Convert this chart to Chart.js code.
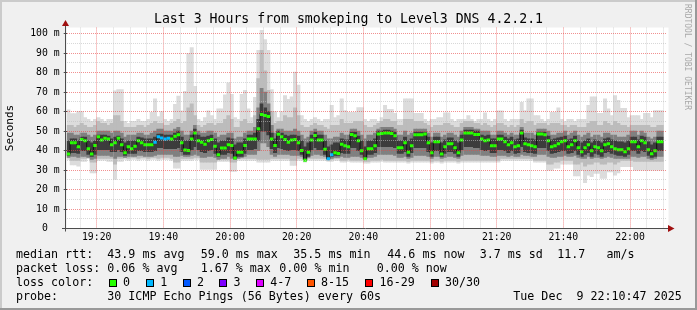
<!DOCTYPE html>
<html><head><meta charset="utf-8">
<script src="https://cdn.jsdelivr.net/npm/chart.js"></script>
<style>
html,body{margin:0;padding:0;background:#f0f0f0;}
#wrap{position:relative;width:697px;height:310px;background:#f0f0f0;overflow:hidden;font-family:"DejaVu Sans Mono",monospace;}
#c{position:absolute;left:0;top:0;}
.t{position:absolute;font-size:11.66px;line-height:14px;white-space:pre;color:#000;}
.box{position:absolute;width:6px;height:6px;border:1px solid #000;}
#wm{position:absolute;left:683px;top:4px;font-size:8px;line-height:9px;color:#a8a8a8;writing-mode:vertical-rl;white-space:pre;}
.sh{position:absolute;}
</style></head>
<body>
<div id="wrap">
<canvas id="c" width="697" height="310"></canvas>
<div id="wm">RRDTOOL / TOBI OETIKER</div>
<div class="sh" style="left:0;top:0;width:697px;height:2px;background:#cbcbcb"></div>
<div class="sh" style="left:0;top:0;width:2px;height:310px;background:#cbcbcb"></div>
<div class="sh" style="left:0;top:308px;width:697px;height:2px;background:#999"></div>
<div class="sh" style="left:695px;top:0;width:2px;height:310px;background:#999"></div>
<div id="legend"></div>
</div>
<script>
// ---- data (one value per minute, first minute starts 19:11) ----
const startMinute = 11; // minutes after 19:00
const median = [
38.2,44,44,42,45.7,45,41,38.2,42.6,47.1,
45.4,46.4,46,43,44,46.4,43,38.9,42,41,
42.3,45,44,43,43,43,44.3,47.1,46.5,46,
46.4,46,47.4,48.1,44,40.3,40,46,49,45,
44.3,43.3,45,45.7,42.3,37.9,41.4,41.4,43,42.6,
36.2,39.2,39.2,42.6,46,46,46,51.2,58.6,58,
57.5,46,42.6,48.4,47.1,45.7,44.3,45.4,45.7,44,
40,35.1,39.2,45.4,47.8,45.4,45.4,40.7,35.8,37.9,
38.9,38.5,43.3,42.5,42,48.3,47.6,45,39.9,35.8,
41,41,42.5,48.5,48.8,49.1,49.1,48.8,47.6,41.5,
41.5,44,39.2,42.5,48.1,48.1,48.1,48.5,44,38.9,
44.5,44.5,38.2,42,43.5,43.5,41.5,38.9,45.5,49.1,
49.1,49.1,48.3,48.3,46,45,45.5,42.5,42.5,46,
46,44.5,43,44,42,42.5,49.1,43.5,43,42.5,
42,48.5,48.5,48.1,45,42,42.5,43.5,44.5,45,
42,43,45,41.5,39.4,41.5,43,39.9,42,41.5,
39.9,43,43.5,42,41,40.4,40.4,39.4,41,44.5,
44.5,42,45,44,40.4,38.4,39.9,44.5,44.5];
const lostPings = [
0,0,0,0,0,0,0,0,0,0, 0,0,0,0,0,0,0,0,0,0, 0,0,0,0,0,0,1,1,1,1,
1,0,0,0,0,0,0,0,0,0, 0,0,0,0,0,0,0,0,0,0, 0,0,0,0,0,0,0,0,0,0,
0,0,0,0,0,0,0,0,0,0, 0,0,0,0,0,0,0,0,1,1, 0,0,0,0,0,0,0,0,0,0,
0,0,0,0,0,0,0,0,0,0, 0,0,0,0,0,0,0,0,0,0, 0,0,0,0,0,0,0,0,0,0,
0,0,0,0,0,0,0,0,0,0, 0,0,0,0,0,0,0,0,0,0, 0,0,0,0,0,0,0,0,0,0,
0,0,0,0,0,0,0,0,0,0, 0,0,0,0,0,0,0,0,0,0, 0,0,0,0,0,0,0,0,0];
const smokeMax = [
61,59,59,60,60,57,56,55,56,57,
56,55,56,56,70.7,71.4,71.4,55,54,55,
55,56,55,55,56,59.7,66.6,57.5,60,56,
55,56,63.8,68,60.4,70.4,89.8,92.9,73,56,
55,57,60.4,58,56,61.4,61.4,68.6,74.8,68.9,
57,56,68.9,70.9,61.4,57,67.4,91.5,101.8,97,
91.5,71.4,60,57,60,68.3,66.3,67.6,80.3,73.7,
58,56,55,56,57,56,55,56,56,63.2,
57,58,66.6,60.5,59.7,59.7,59.7,62.1,62.1,56,
55,56,56,55,57,63.2,61.2,61.2,59.1,56,
56,66.6,66.6,66.6,59.1,59.1,59.1,56,55,56,
56,57,57,59.4,59.4,56,55,56,56,56,
58,56,55,56,56,59.4,56,55,56,60.4,
60.4,56,55,56,56,56,64.8,60.5,66.6,66.6,
58,58,56,55,56,59.7,59.7,62,56,55,
56,56,55,56,56,56,63.2,67.6,67.6,59.1,
59.1,66.6,61.5,58,68.3,65.8,61.7,61.7,57,58,
58,58,56,59.1,59.1,57,60.5,60.5,60.5];
const smokeMin = [
35.5,32.7,32.7,32,34.4,34.4,35.8,28.6,28.6,35,
35.1,35.1,34.4,34.4,25.2,34.4,34.4,35.5,35,35.5,
35.5,35,35.5,35.5,35,35.5,35.5,35,35.5,35.5,
35.5,35,31,31,35,35,35,35,35.5,35.5,
30.4,30.4,30.4,30.4,30.4,34.4,34.4,34.4,34.4,29.3,
29.3,35,35,35,35,35,35,34,34,34,
34,35,35,35,35,35,35,32.4,32.4,35,
35,34,35,35,35,35,35,35,34.5,34.5,
35,35,34,34,34.5,34,34,34,34,33.5,
33.5,34,34,34,34.5,34,34,34,34,34,
34,34,33.5,34,34,34,34,34,34,33.5,
34,34,33.5,34,34,34,34,33.5,34,34,
34,34,34,34,34,34,34,34,34,34,
35,35,35,35,35,35,35,35,35,35,
34,34,34,34,30,30,31,31,33,33,
33,33,27,27,30,23.5,27.4,26.6,28.3,28.3,
25.7,25.7,29.1,29.1,27.4,28.6,31.7,31.7,31.7,31.7,
30,30,30,30,30,30,30,30,30];
const smokeHigh2 = [
53,53,52,53,54,53,52,52,53,55,
54,54,53,54,58,58,55,52,52,52,
52,53,53,52,53,54,55,54,54,53,
53,54,55,56,54,55,62,64,58,53,
52,53,54,54,53,54,54,56,58,56,
52,52,55,56,54,54,58,77,91.5,81,
71,60,54,55,55,58,57,57,62,58,
53,52,52,53,54,53,53,52,51,53,
53,53,56,54,54,54,55,55,55,53,
52,52,53,54,55,56,56,55,55,53,
53,56,56,56,55,55,55,54,53,52,
53,53,53,54,54,53,52,52,54,55,
55,55,54,54,53,54,53,52,53,54,
54,53,52,53,52,53,56,54,55,55,
53,54,54,54,53,54,54,54,53,53,
52,53,53,52,52,52,54,55,55,53,
53,55,54,53,55,54,53,53,52,53,
53,53,53,53,53,52,52,53,53];
const smokeLow2 = [
36.5,35,35,35,36,36,36.5,34,34,36,
36,36,36,36,33,36,36,36.5,36,36.5,
36.5,36,36.5,36.5,36,36.5,36.5,36,36.5,36.5,
36.5,36,34,34,36,36,36,36,36.5,36.5,
34,34,34,34,34,35.5,35.5,35.5,35.5,34,
34,36,36,36,36,36,36,35.5,35.5,35.5,
35.5,36,36,36,36,36,36,35,35,36,
36,35,36,36,36,36,36,36,35,35.5,
36,36,35,35,35.5,35,35,35,35,34.5,
34.5,35,35,35,35.5,35,35,35,35,35,
35,35,34.5,35,35,35,35,35,35,34.5,
35,35,34.5,35,35,35,35,34.5,35,35,
35,35,35,35,35,35,35,35,35,35,
36,36,36,36,36,36,36,36,36,36,
35,35,35,35,33,33,34,34,35,35,
35,35,33,33,34,32,33,33,34,34,
33,33,34,34,33,34,35,35,35,35,
34.5,34.5,34.5,34.5,34.5,34.5,34.5,34.5,34.5];
const smokeHigh3 = [
49,49,48,48,49,49,48,47,48,50,
50,50,50,49,50,50,49,47,48,48,
48,49,49,48,48,49,50,51,51,50,
50,50,51,52,50,48,48,50,53,50,
49,49,50,50,49,47,48,48,49,49,
46,47,47,49,50,50,52,62,72,70,
64,53,49,51,51,50,50,50,51,50,
48,46,47,50,51,50,50,48,46,46,
47,47,49,48,48,51,51,50,48,46,
48,48,49,51,52,52,52,52,51,48,
48,50,48,49,51,51,51,51,49,47,
49,49,47,48,49,49,48,47,50,52,
52,52,51,51,50,50,50,48,48,50,
50,49,48,49,48,48,52,49,49,49,
48,51,51,51,50,48,48,49,49,50,
48,49,50,48,47,48,49,47,48,48,
47,49,49,48,48,47,47,47,48,50,
50,48,50,49,47,46,47,50,50];
const smokeLow3 = [
36.5,37,37,36.5,37,37,36.5,35.5,36,37.5,
37.5,37.5,37.5,37,36,37,37,36.5,37,37,
37,37.5,37.5,37,37,37,37.5,38,38,38,
38,38,37,37,37.5,37,37,37.5,38,37.5,
36.5,36.5,37,37,36.5,35.5,36,36,37,36,
35.5,36,36.5,37,38,38,38,40,44,44,
42,38,37,38,38,38,38,37.5,37.5,37.5,
37,35.5,36.5,37.5,38,38,37.5,37,35.5,36,
36.5,36.5,37,36.5,36.5,37,37,37,36.5,35.5,
36.5,36.5,37,38,38,38,38,38,37.5,36.5,
36.5,37,36,36.5,37.5,37.5,37.5,37.5,37,36,
37,37,36,36.5,37,37,36.5,36,37.5,38,
38,38,38,38,37.5,37.5,37.5,37,37,37.5,
37.5,37.5,37,37.5,37,37,38,37.5,37.5,37,
37,38,38,38,37,36.5,36.5,37,37,37.5,
37,37,37.5,36.5,36,36,37,36,36.5,36.5,
36,36.5,37,36.5,36,36,36,36,36,37,
37,36.5,37,37,36,35.5,36,37,37];
const smokeHigh4 = [
45,46,46,45,47,47,45,44,45,48,
48,48,47.5,46,47,47.5,46,44,45,45,
45,47,46.5,46,46,46,47,48.5,48.5,48,
48,48,49,50,47,45,45,48,51,48,
47,47,47.5,48,46,44,45,45,46.5,46,
43,44,44,46,48,48,49,56,64,62,
60,49,46,50,49,48,47.5,48,48,47.5,
45,42,44,48,49.5,48,48,45,42,43,
44,44,46,45.5,45.5,49.5,49.5,47.5,45,42,
45,45,46,50,50,50.5,50.5,50,49.5,45,
45,47,45,46,49.5,49.5,49.5,49.5,47,44,
47,47,44,45.5,46.5,46.5,45,44,48,50.5,
50.5,50.5,50,50,48,47.5,48,46,46,48,
48,47,46,47,45.5,46,50.5,46.5,46,46,
45.5,49.5,49.5,49.5,47.5,45.5,46,46.5,47,47.5,
45.5,46,47.5,45,44,45,46,44,45.5,45,
44,46,46.5,45.5,45,44.5,44.5,44,45,47,
47,45.5,47.5,47,44.5,43,44,47,47];
const smokeLow4 = [
37.5,39,39,38.5,40,40,38,37,38,40.5,
40.5,40.5,40.5,39.5,39.5,40.5,39.5,37.5,38.5,38.5,
38.5,40,40,39.5,39.5,39.5,40,41.5,41.5,41,
41,41,41,41.5,39.5,38,38,40.5,42,40.5,
39.5,39,40,40.5,38.5,37,38,38,39,38.5,
36,37,37,38.5,40.5,40.5,41,45,50,50,
48,41,39,41.5,41,40.5,40,40.5,40.5,40,
38,36,37,40.5,41.5,40.5,40.5,38,36,37,
37.5,37.5,39,38.5,38.5,41.5,41.5,40,38,36,
38,38,39,42,42,42,42,42,41.5,38.5,
38.5,39.5,37,39,41.5,41.5,41.5,41.5,39.5,37,
40,40,37,38.5,39.5,39.5,38.5,37,40.5,42,
42,42,41.5,41.5,40.5,40,40.5,39,39,40.5,
40.5,40,39,40,38.5,39,42,39.5,39,39,
38.5,41.5,41.5,41.5,40,38.5,39,39.5,40,40,
38.5,39,40,38,37,38,39,37,38.5,38,
37,39,39.5,38.5,38,37.5,37.5,37,38,40,
40,38.5,40,39.5,37.5,36.5,37,40,40];

// tick labels
const xMajorLabels = ['19:20','19:40','20:00','20:20','20:40','21:00','21:20','21:40','22:00'];
const yMajorLabels = ['0  ','10 m','20 m','30 m','40 m','50 m','60 m','70 m','80 m','90 m','100 m'];

// legend texts
const rowHeads = ['median rtt:','packet loss:','loss color:','probe:'];
const rttStats = ['43.9 ms avg','59.0 ms max','35.5 ms min','44.6 ms now','3.7 ms sd','11.7   am/s'];
const lossStats = ['0.06 % avg','1.67 % max','0.00 % min','0.00 % now'];
const lossBins = ['0','1','2','3','4-7','8-15','16-29','30/30'];
const lossColors = ['#26ff00','#00b8ff','#0059ff','#7e00ff','#dd00ff','#ff5500','#ff0000','#a10000'];
const probeText = '30 ICMP Echo Pings (56 Bytes) every 60s';
const stampText = 'Tue Dec  9 22:10:47 2025';

// ---- layout (positions only) ----
const rowY = [247,261,275,289];
const headX = 16;
const rttX = [107.3,200.7,293.3,387.3,479.7,557.3];
const lossX = [107.3,200.7,279.3,376.7];
const boxX = [108.7,146,182.7,219.3,256,306.7,365.3,430.7];
const probeX = 107.3, stampX = 513.3;

const lg = document.getElementById('legend');
function addText(txt,x,y){const d=document.createElement('div');d.className='t';d.textContent=txt;d.style.left=x+'px';d.style.top=y+'px';lg.appendChild(d);}
rowHeads.forEach((h,i)=>addText(h,headX,rowY[i]));
rttStats.forEach((s,i)=>addText(s,rttX[i],rowY[0]));
lossStats.forEach((s,i)=>addText(s,lossX[i],rowY[1]));
lossBins.forEach((s,i)=>{
  const b=document.createElement('div');b.className='box';b.style.left=boxX[i]+'px';b.style.top=(rowY[2]+3.5)+'px';b.style.background=lossColors[i];lg.appendChild(b);
  addText(s,boxX[i]+14.3,rowY[2]);
});
addText(probeText,probeX,rowY[3]);
addText(stampText,stampX,rowY[3]);

// ---- chart ----
const xs = median.map((_,i)=>startMinute+0.5+i);
const band = (lo,hi)=>xs.map((x,i)=>({x:x,y:[lo[i],hi[i]]}));
const pts = arr=>xs.map((x,i)=>({x:x,y:arr[i]}));
const MONO = '"DejaVu Sans Mono", monospace';
const majorGrid = 'rgba(232,70,70,0.6)';
const minorGrid = 'rgba(190,190,190,0.6)';

const frame = {
  id:'frame',
  beforeDraw(chart){
    const {ctx,chartArea:a}=chart;
    ctx.save();ctx.fillStyle='#fff';
    ctx.fillRect(a.left,a.top,668.5-a.left,a.bottom-a.top);
    ctx.restore();
  },
  afterDraw(chart){
    const {ctx,chartArea:a}=chart;
    const y0=chart.scales.y.getPixelForValue(0);
    const ax=Math.floor(a.left)-0.5;
    ctx.save();
    ctx.strokeStyle='#4d4d4d';ctx.lineWidth=1;
    ctx.beginPath();ctx.moveTo(62,y0);ctx.lineTo(669,y0);ctx.stroke();
    ctx.beginPath();ctx.moveTo(ax,y0+3);ctx.lineTo(ax,24);ctx.stroke();
    ctx.fillStyle='#a01010';
    ctx.beginPath();ctx.moveTo(ax,20);ctx.lineTo(ax-3.5,26);ctx.lineTo(ax+3.5,26);ctx.closePath();ctx.fill();
    ctx.beginPath();ctx.moveTo(674.5,y0);ctx.lineTo(668,y0-3.5);ctx.lineTo(668,y0+3.5);ctx.closePath();ctx.fill();
    ctx.restore();
  }
};

const barDefaults = {type:'bar',grouped:false,categoryPercentage:1,barPercentage:1,borderWidth:0};
new Chart(document.getElementById('c'),{
  type:'bar',
  data:{datasets:[
    {...barDefaults,label:'smoke1',data:band(smokeMin,smokeMax),backgroundColor:'#dcdcdc',order:10},
    {...barDefaults,label:'smoke2',data:band(smokeLow2,smokeHigh2),backgroundColor:'#bcbcbc',order:9},
    {...barDefaults,label:'smoke3',data:band(smokeLow3,smokeHigh3),backgroundColor:'#808080',order:8},
    {...barDefaults,label:'smoke4',data:band(smokeLow4,smokeHigh4),backgroundColor:'#3c3c3c',order:7},
    {type:'line',label:'median',data:pts(median),stepped:'middle',borderColor:'#101010',borderWidth:1,pointRadius:0,order:2},
    {type:'line',label:'loss',data:pts(median),showLine:false,pointStyle:'line',pointRadius:1.75,
     pointBorderWidth:3,pointHoverRadius:1.75,
     pointBorderColor:ctx=>lossColors[lostPings[ctx.dataIndex]||0],order:1}
  ]},
  plugins:[frame],
  options:{
    responsive:false,animation:false,events:[],
    layout:{padding:0},
    plugins:{
      legend:{display:false},tooltip:{enabled:false},
      title:{display:true,text:'Last 3 Hours from smokeping to Level3 DNS 4.2.2.1',color:'#000',
        font:{family:MONO,size:13.2,weight:'normal'},padding:{top:11.4,bottom:0.3}}
    },
    scales:{
      x:{type:'linear',min:startMinute,max:startMinute+180,offset:false,
        grid:{offset:false,z:1,lineWidth:1,tickLength:3,
          color:c=>c.tick&&c.tick.value%20===0?majorGrid:minorGrid,
          tickColor:'rgba(0,0,0,0)'},
        border:{display:false,dash:[1,1]},
        ticks:{autoSkip:false,maxRotation:0,padding:0,color:'#000',font:{family:MONO,size:9.8},
          callback:v=>v%20===0?xMajorLabels[(v-20)/20]:''},
        afterBuildTicks:s=>{const t=[];for(let v=startMinute+4;v<startMinute+180;v+=5)t.push({value:v});s.ticks=t;},
        afterFit:s=>{s.height=81.5;}
      },
      y:{type:'linear',min:0,max:103.2,
        grid:{z:1,lineWidth:1,tickLength:3,
          color:c=>c.tick&&c.tick.value===0?'rgba(0,0,0,0)':(c.tick&&c.tick.value%10===0?majorGrid:minorGrid),
          tickColor:c=>c.tick&&c.tick.value%10===0?'#4d4d4d':'rgba(0,0,0,0)'},
        border:{display:false,dash:[1,1]},
        ticks:{autoSkip:false,padding:4,color:'#000',font:{family:MONO,size:9.8},
          callback:v=>v%10===0?yMajorLabels[v/10]:''},
        afterBuildTicks:s=>{const t=[];for(let v=0;v<=100;v+=5)t.push({value:v});s.ticks=t;},
        title:{display:true,text:'Seconds',color:'#000',font:{family:MONO,size:11},padding:{top:3.4,bottom:0}},
        afterFit:s=>{s.width=66.7;}
      },
      yRight:{type:'linear',position:'right',min:0,max:103.2,
        grid:{display:false},border:{display:false},ticks:{display:false},
        afterFit:s=>{s.width=30.3;}
      }
    }
  }
});
</script>
</body></html>
